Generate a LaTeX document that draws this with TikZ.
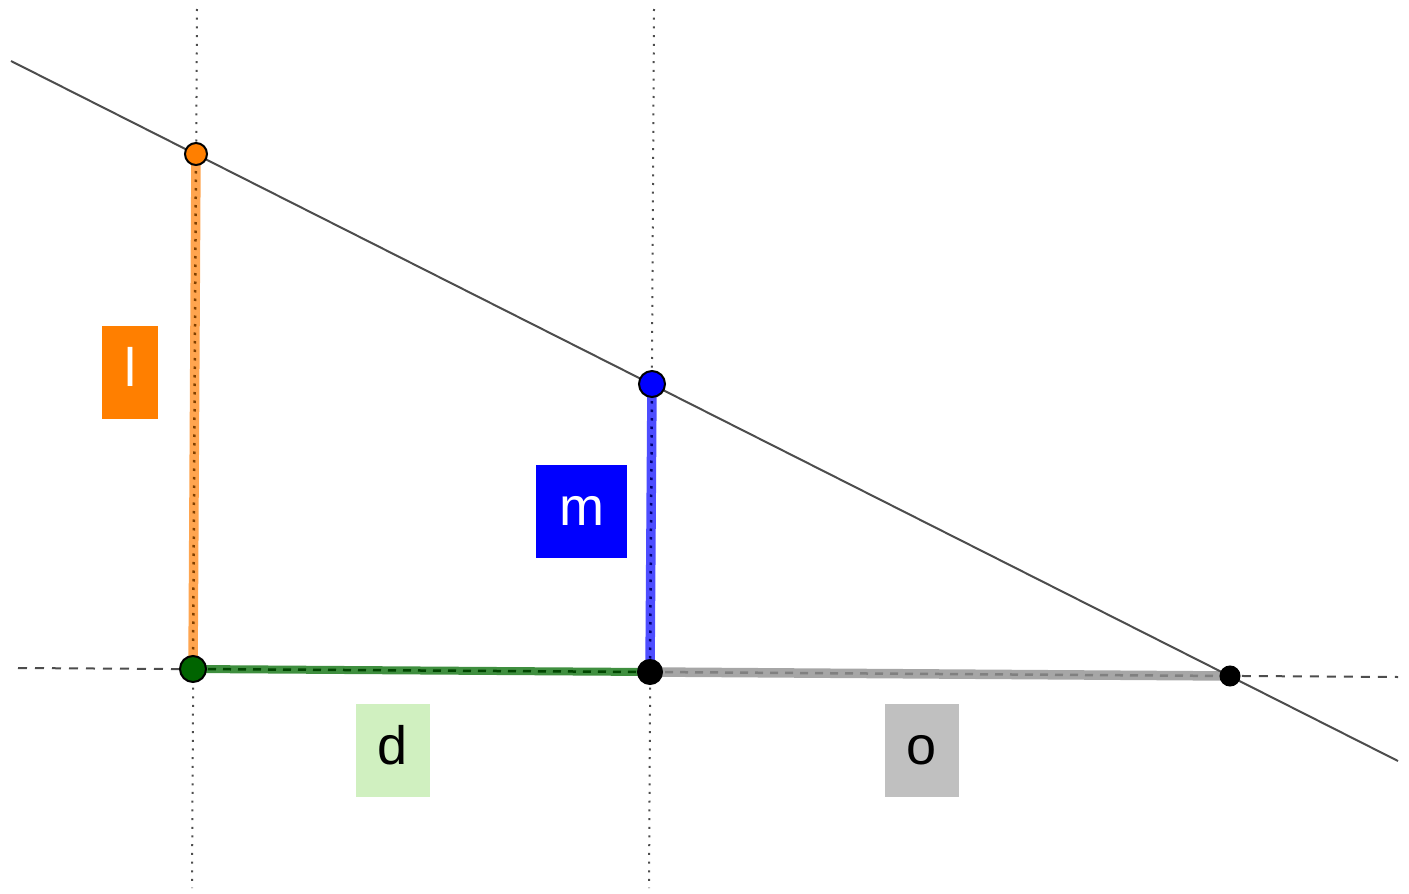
\documentclass[tikz,border=0pt]{standalone}
\usepackage{fontspec}
\setmainfont{Liberation Sans}
\usetikzlibrary{calc, positioning}
\definecolor{lorange}{HTML}{FF7F00}
\definecolor{lorangeseg}{HTML}{FFA54F}
\definecolor{mblue}{HTML}{0000FF}
\definecolor{mblueseg}{HTML}{4D4DFF}
\definecolor{dgreen}{HTML}{006400}
\definecolor{dgreenseg}{HTML}{3F8F3F}
\definecolor{dlabel}{HTML}{D0F0C0}
\definecolor{olabel}{HTML}{C0C0C0}
\definecolor{ograyseg}{HTML}{A6A6A6}
\definecolor{lineg}{HTML}{4D4D4D}

\begin{document}
\begin{tikzpicture}[x=1pt, y=-1pt,
  pt/.style={circle, draw=black, line width=2pt, inner sep=0pt},
  lbl/.style={inner sep=0pt, minimum height=93pt, text height=40pt, text depth=12pt,
    font=\fontsize{54}{60}\selectfont},
  guide/.style={lineg, line width=2pt, dash pattern=on 2pt off 6.7pt},
  seg/.style={line width=9.5pt}]
  \useasboundingbox (0,0) rectangle (1409,894);
  % points of the figure
  \coordinate (ltop) at (196,154);
  \coordinate (lfoot) at (193,669);
  \coordinate (mtop) at (652,384);
  \coordinate (mfoot) at (650,672);
  \coordinate (tip) at (1230,676);
  \coordinate (s1) at (11,61);
  \coordinate (s2) at (1398,761);
  \coordinate (g1) at (197,9);
  \coordinate (g2) at (192,888);
  \coordinate (g3) at (654,9);
  \coordinate (g4) at (649,888);
  \coordinate (h1) at (18,668);
  \coordinate (h2) at (1398,677);
  % guide lines
  \draw[guide] (g1) -- (g2);
  \draw[guide] (g3) -- (g4);
  \draw[lineg, line width=2pt, dash pattern=on 9pt off 8pt] (h1) -- (h2);
  % segments
  \draw[seg, lorangeseg] (ltop) -- (lfoot);
  \draw[orange!50!black, line width=2.5pt, dash pattern=on 2.5pt off 6pt] (ltop) -- (lfoot);
  \draw[seg, mblueseg] (mtop) -- (mfoot);
  \draw[mblue!45!black, line width=2.5pt, dash pattern=on 2.5pt off 6pt] (mtop) -- (mfoot);
  \draw[seg, line width=8pt, dgreenseg] (lfoot) -- (mfoot);
  \draw[dgreen!70!black, line width=2.5pt, dash pattern=on 8pt off 7pt] (lfoot) -- (mfoot);
  \draw[seg, ograyseg] (mfoot) -- (tip);
  \draw[gray, line width=2.5pt, dash pattern=on 8pt off 7pt] (mfoot) -- (tip);
  \draw[lineg, line width=2pt] (s1) -- (s2);
  % points
  \node[pt, fill=lorange, minimum size=22pt] (pl) at (ltop) {};
  \node[pt, fill=dgreen, minimum size=26pt] (pd) at (lfoot) {};
  \node[pt, fill=mblue, minimum size=26pt] (pm) at (mtop) {};
  \node[pt, fill=black, minimum size=24pt] (po) at (mfoot) {};
  \node[pt, fill=black, minimum size=19pt] (ptip) at (tip) {};
  % labels
  \node[lbl, fill=lorange, text=white, minimum width=56pt] (labl) at (130,372.5) {l};
  \node[lbl, fill=mblue, text=white, minimum width=91pt] (labm) at (581.5,511.5) {m};
  \node[lbl, fill=dlabel, minimum width=74pt] (labd) at (393,750.5) {d};
  \node[lbl, fill=olabel, minimum width=74pt] (labo) at (922,750.5) {o};
\end{tikzpicture}
\end{document}
